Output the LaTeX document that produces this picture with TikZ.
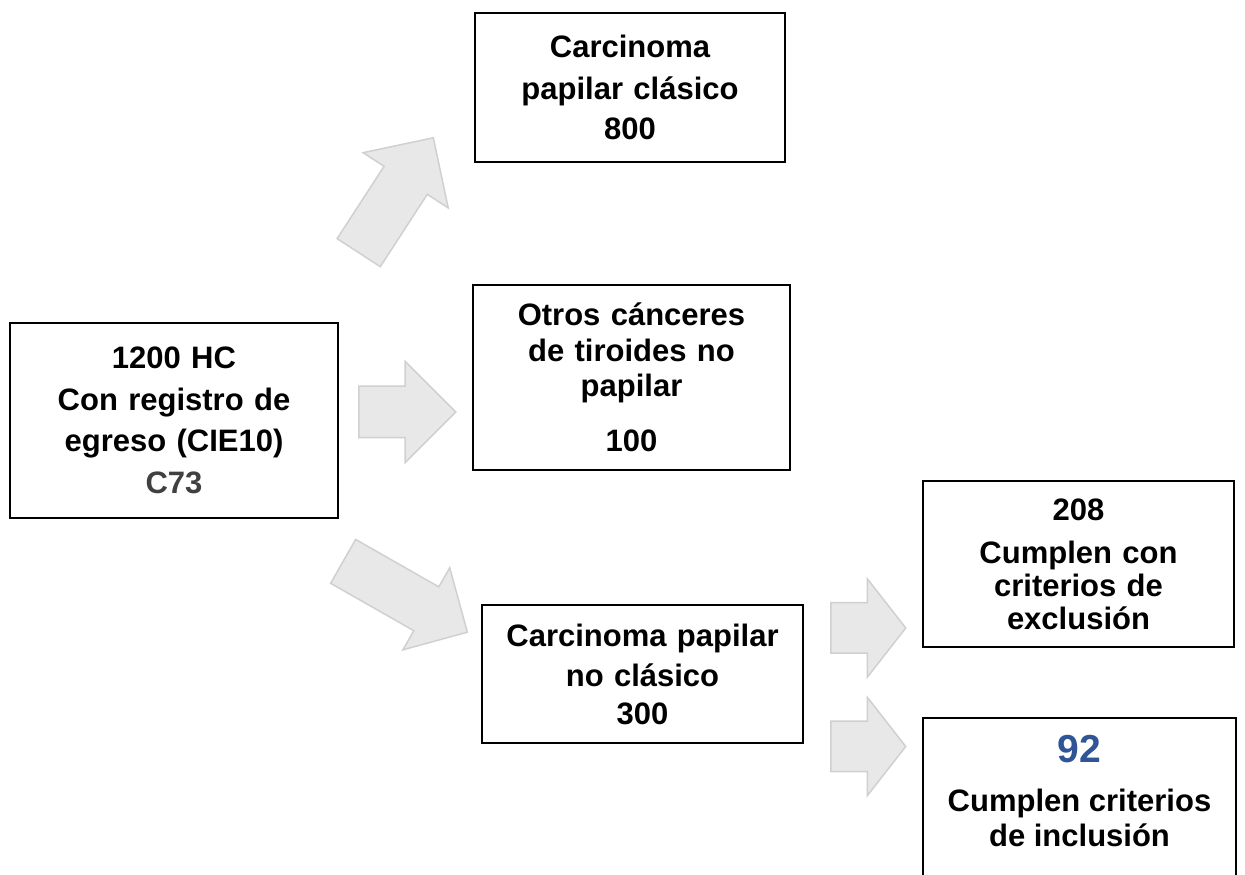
\documentclass[tikz,border=0pt]{standalone}
\usepackage{fontspec}
\setmainfont{Liberation Sans}
\usetikzlibrary{positioning, shapes.arrows}
\definecolor{arrowfill}{HTML}{E8E8E8}
\definecolor{arrowline}{HTML}{D0D0D0}
\definecolor{numblue}{HTML}{2F5597}
\definecolor{codegray}{HTML}{404040}

\begin{document}
\begin{tikzpicture}[x=1pt, y=1pt,
  box/.style={draw, line width=2pt, inner sep=0pt, align=center,
    font=\bfseries\fontsize{31}{40}\selectfont},
  blockarrow/.style={single arrow, draw=arrowline, fill=arrowfill,
    line width=1.5pt, inner xsep=0pt, inner ysep=25pt, minimum width=100pt,
    single arrow head extend=25pt, anchor=tail}]
  \clip (0,0) rectangle (1245,875);

  % boxes
  \node[box, text width=328pt, minimum height=195pt] (total) at (174,454.5)
    {1200 HC\\[2pt] Con registro de\\[1pt] egreso (CIE10)\\[2pt] \textcolor{codegray}{C73}};
  \node[box, text width=310pt, minimum height=149pt] (clasico) at (630,787.5)
    {Carcinoma\\[2pt] papilar clásico\\ 800};
  \node[box, text width=317pt, minimum height=185pt] (otros) at (631.5,497.5)
    {Otros cánceres\\[-4pt] de tiroides no\\[-5pt] papilar\\[15pt] 100};
  \node[box, text width=321pt, minimum height=138pt] (noclasico) at (642.5,201)
    {Carcinoma papilar\\ no clásico\\[-2pt] 300};
  \node[box, text width=311pt, minimum height=166pt] (excl) at (1078.5,311)
    {208\\[3pt] Cumplen con\\[-7pt] criterios de\\[-7pt] exclusión};
  \node[box, text width=313pt, minimum height=180pt, anchor=north] (incl) at (1079.5,158) {};
  \node[box, draw=none, below=17pt of incl.north] (incltext)
    {\textcolor{numblue}{\fontsize{39}{40}\selectfont 92}\\[9pt] Cumplen criterios\\[-5pt] de inclusión};

  % block arrows
  \node[blockarrow, minimum height=137pt, rotate=57] (toclasico) at (358.3,621.7) {};
  \node[blockarrow, minimum height=97pt] (tootros) at (358,463) {};
  \node[blockarrow, minimum height=143pt, minimum width=93pt, inner ysep=24.5pt,
    single arrow head extend=22pt, rotate=-29.7] (tonoclasico) at (342.5,314) {};
  \node[blockarrow, minimum height=75pt, minimum width=97pt, inner ysep=24.5pt,
    single arrow head extend=24pt, single arrow tip angle=104] (toexcl) at (830,247) {};
  \node[blockarrow, minimum height=75pt, minimum width=97pt, inner ysep=24.5pt,
    single arrow head extend=24pt, single arrow tip angle=104] (toincl) at (830,128.5) {};
\end{tikzpicture}
\end{document}
